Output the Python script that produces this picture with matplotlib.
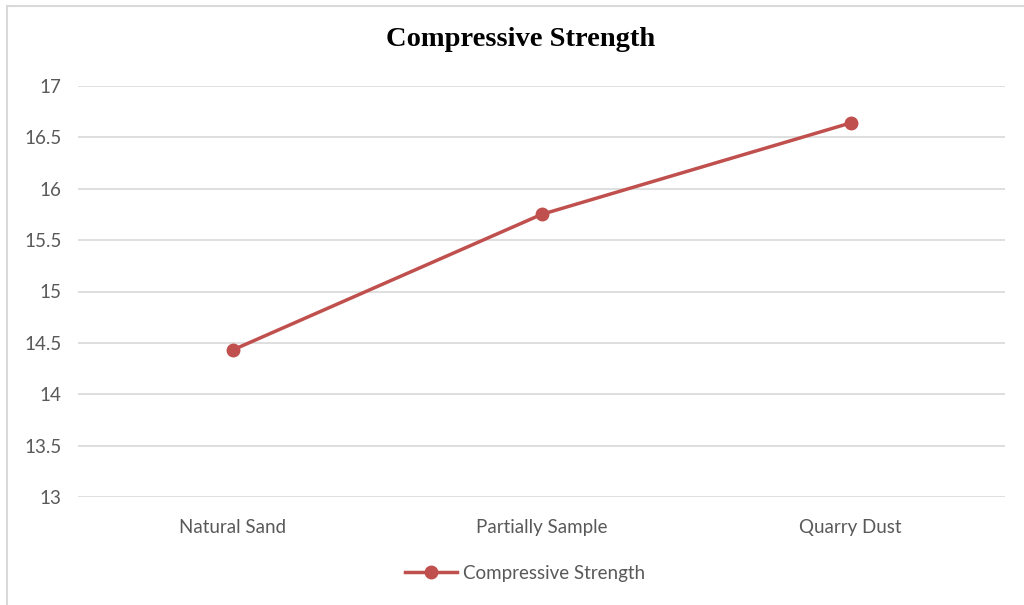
import matplotlib
matplotlib.use("Agg")
import matplotlib.pyplot as plt
from matplotlib.lines import Line2D

categories = ["Natural Sand", "Partially Sample", "Quarry Dust"]
strength = [14.43, 15.75, 16.64]
y_ticks = [13, 13.5, 14, 14.5, 15, 15.5, 16, 16.5, 17]
y_tick_labels = ["13", "13.5", "14", "14.5", "15", "15.5", "16", "16.5", "17"]

line_color = "#C0504D"
text_color = "#595959"
grid_color = "#D9D9D9"
label_font = "Lato"
label_size = 13.5

fig = plt.figure(figsize=(10.24, 6.05), dpi=100)
fig.patch.set_facecolor("white")

# chart-area frame (top and left edges)
fig.add_artist(Line2D([7 / 1024, 7 / 1024], [0, 1 - 6 / 605], transform=fig.transFigure,
                      color="#D9D9D9", lw=1.5))
fig.add_artist(Line2D([7 / 1024, 1], [1 - 6 / 605, 1 - 6 / 605], transform=fig.transFigure,
                      color="#D9D9D9", lw=1.5))

ax = fig.add_axes([78 / 1024, 1 - 497 / 605, (1005 - 78) / 1024, (497 - 86) / 605])
x = list(range(len(categories)))
ax.plot(x, strength, color=line_color, lw=2.5, marker="o", markersize=9,
        label="Compressive Strength", zorder=3)

ax.set_xlim(-0.5, len(categories) - 0.5)
ax.set_ylim(13, 17)
ax.set_yticks(y_ticks)
ax.set_yticklabels(y_tick_labels)
ax.set_xticks(x)
ax.set_xticklabels(categories)
ax.grid(axis="y", color=grid_color, lw=1.2)
ax.set_axisbelow(True)
for s in ax.spines.values():
    s.set_visible(False)
ax.tick_params(length=0, labelsize=label_size, labelcolor=text_color, pad=12)
ax.tick_params(axis="x", pad=16)
for lbl in ax.get_xticklabels() + ax.get_yticklabels():
    lbl.set_fontfamily(label_font)

fig.text(521 / 1024, 1 - 40 / 605, "Compressive Strength", ha="center", va="center",
         fontsize=20.5, fontweight="bold", family="Liberation Serif", color="black")

leg = ax.legend(loc="center", bbox_to_anchor=(525 / 1024, 1 - 573 / 605),
                bbox_transform=fig.transFigure, frameon=False, handlelength=2.8,
                handletextpad=0.3, prop={"family": label_font, "size": label_size})
for t in leg.get_texts():
    t.set_color(text_color)

fig.savefig("out.png", dpi=100, facecolor="white")
